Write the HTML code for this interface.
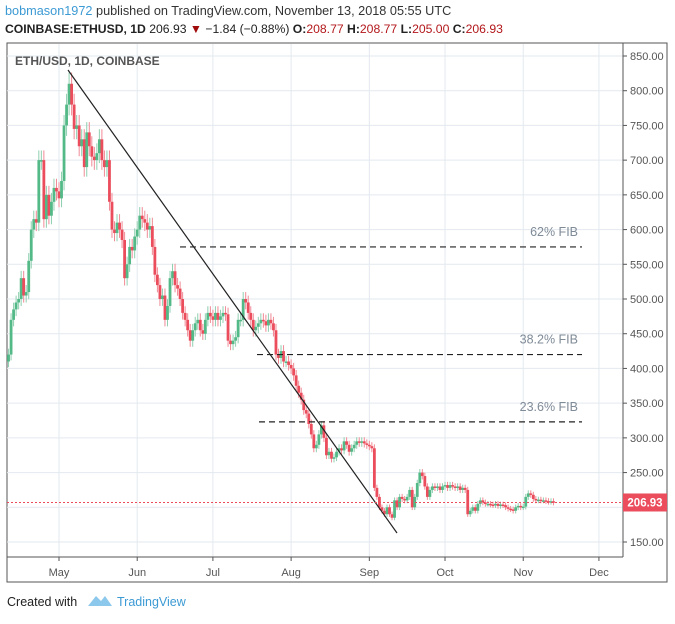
<!DOCTYPE html>
<html><head><meta charset="utf-8"><style>
body{margin:0;background:#fff;width:675px;height:619px;overflow:hidden;font-family:"Liberation Sans",sans-serif}
</style></head><body>
<svg width="675" height="619" xmlns="http://www.w3.org/2000/svg" style="font-family:'Liberation Sans',sans-serif">
<text x="5" y="15" font-size="12.7" fill="#333"><tspan fill="#3c9ad4">bobmason1972</tspan> published on TradingView.com, November 13, 2018 05:55 UTC</text>
<text x="5" y="33" font-size="12.2" fill="#222"><tspan font-weight="bold">COINBASE:ETHUSD, 1D</tspan> 206.93 <tspan fill="#a10b0b">▼</tspan> −1.84 (−0.88%) <tspan font-weight="bold">O:</tspan><tspan fill="#b3171b">208.77</tspan> <tspan font-weight="bold">H:</tspan><tspan fill="#b3171b">208.77</tspan> <tspan font-weight="bold">L:</tspan><tspan fill="#b3171b">205.00</tspan> <tspan font-weight="bold">C:</tspan><tspan fill="#b3171b">206.93</tspan></text>
<rect x="7" y="43" width="660" height="539" fill="none" stroke="#555" stroke-width="1"/>
<g id="grid"></g>
<line x1="623" y1="43" x2="623" y2="557" stroke="#555"/>
<line x1="7" y1="557" x2="623" y2="557" stroke="#555"/>
<g id="axes"></g>
<text x="15" y="65" font-size="12" font-weight="bold" fill="#555">ETH/USD, 1D, COINBASE</text>
<g id="candles"></g>
<g id="drawings"></g>
<text x="7" y="606" font-size="12.5" fill="#222">Created with</text>
<g>
<path d="M88 606 L96 596 L101 601 L105 596 L112 606 Z" fill="#8cc8ec"/>
<text x="117" y="606" font-size="12.5" fill="#3c9ad4">TradingView</text>
</g>
</svg>
<script>
const closes=[420,470,485,495,500,530,505,510,555,600,
615,610,700,700,615,650,620,640,660,655,
645,670,750,780,810,780,745,750,720,730,
690,740,720,705,700,710,730,700,690,700,
640,600,595,610,600,585,530,550,575,570,
590,600,620,615,610,600,605,575,535,520,
500,505,470,490,530,540,520,515,500,480,
470,455,440,455,465,470,455,450,470,480,
475,470,480,470,475,480,478,440,435,440,
445,470,470,500,495,480,470,455,460,465,
470,468,462,470,465,455,420,415,425,410,
410,405,400,390,375,365,355,340,335,320,
305,285,290,305,318,300,275,280,270,272,
280,285,282,295,290,280,285,290,295,293,
295,292,290,288,285,228,215,200,195,190,
200,190,185,210,200,215,212,210,215,225,
200,215,235,250,245,230,215,225,230,228,
230,225,230,232,228,232,230,228,230,225,
228,225,190,195,200,195,205,210,207,205,
205,204,203,205,202,204,203,200,198,197,
195,200,202,200,201,215,220,218,212,210,
211,210,210,209,208,208.77,206.93];
const yTicks=[850,800,750,700,650,600,550,500,450,400,350,300,250,200,150];
const monthLabels=["May","Jun","Jul","Aug","Sep","Oct","Nov","Dec"];
const monthIdx=[20,51,81,112,143,173,204,234];
const fibLevels=[575,420,323];
const fibNames=["62% FIB","38.2% FIB","23.6% FIB"];
const lastPrice=206.93;
const NS="http://www.w3.org/2000/svg";
const yS=v=>56+(850-v)*0.6943;
const xS=i=>59+(i-20)*2.523;
function mk(tag,attrs,parent){const e=document.createElementNS(NS,tag);for(const k in attrs)e.setAttribute(k,attrs[k]);parent.appendChild(e);return e;}
const grid=document.getElementById('grid'),axes=document.getElementById('axes'),cg=document.getElementById('candles'),dg=document.getElementById('drawings');
yTicks.forEach(v=>{
 const l=mk('line',{x1:7,x2:623,y1:yS(v),y2:yS(v),stroke:'#e3e9ef'},grid);
 
 
 if(v===200)return;
 const t=mk('text',{x:630,y:yS(v)+4,'font-size':11,fill:'#555'},axes);t.textContent=v.toFixed(2);
 
 
 mk('line',{x1:623,x2:627,y1:yS(v),y2:yS(v),stroke:'#555'},axes);
});
monthLabels.forEach((m,k)=>{
 const x=xS(monthIdx[k]);
 const l=mk('line',{x1:x,x2:x,y1:44,y2:557,stroke:'#e3e9ef'},grid);
 
 
 mk('line',{x1:x,x2:x,y1:557,y2:561,stroke:'#555'},axes);
 const t=mk('text',{x:x,y:576,'font-size':11,fill:'#555','text-anchor':'middle'},axes);t.textContent=m;
 
 
});
closes.forEach((c,i)=>{
 const o=i===0?c-10:closes[i-1];
 const up=c>=o;
 const x=xS(i);
 const hi=Math.max(o,c)*1.02,lo=Math.min(o,c)*0.98;
 const w=mk('line',{x1:x,x2:x,y1:yS(hi),y2:yS(lo),stroke:up?'#8fcfb0':'#f08a95','stroke-width':1},cg);
 
 
 const top=yS(Math.max(o,c)),h=Math.max(1.5,Math.abs(yS(o)-yS(c)));
 const r=mk('rect',{x:x-1.4,y:top,width:2.8,height:h,fill:up?'#53b987':'#eb4d5c'},cg);
 
 
});
const tl=mk('line',{x1:68,y1:70,x2:397,y2:533,stroke:'#222','stroke-width':1.2},dg);


const fibStart=[180,257,259];
fibLevels.forEach((v,k)=>{
 const l=mk('line',{x1:fibStart[k],x2:582,y1:yS(v),y2:yS(v),stroke:'#222','stroke-dasharray':'6,4','stroke-width':1.2},dg);
 
 
 const t=mk('text',{x:578,y:yS(v)-11,'font-size':12.5,fill:'#7f8b97','text-anchor':'end'},dg);t.textContent=fibNames[k];
 
 
});
const pl=mk('line',{x1:7,x2:623,y1:yS(lastPrice),y2:yS(lastPrice),stroke:'#eb4d5c','stroke-dasharray':'2,2'},dg);


const pb=mk('rect',{x:623,y:yS(lastPrice)-9,width:44,height:18,fill:'#eb4d5c'},dg);


const pt=mk('text',{x:645,y:yS(lastPrice)+4,'font-size':11.5,'font-weight':'bold',fill:'#fff','text-anchor':'middle'},dg);pt.textContent=lastPrice.toFixed(2);


</script>
</body></html>
